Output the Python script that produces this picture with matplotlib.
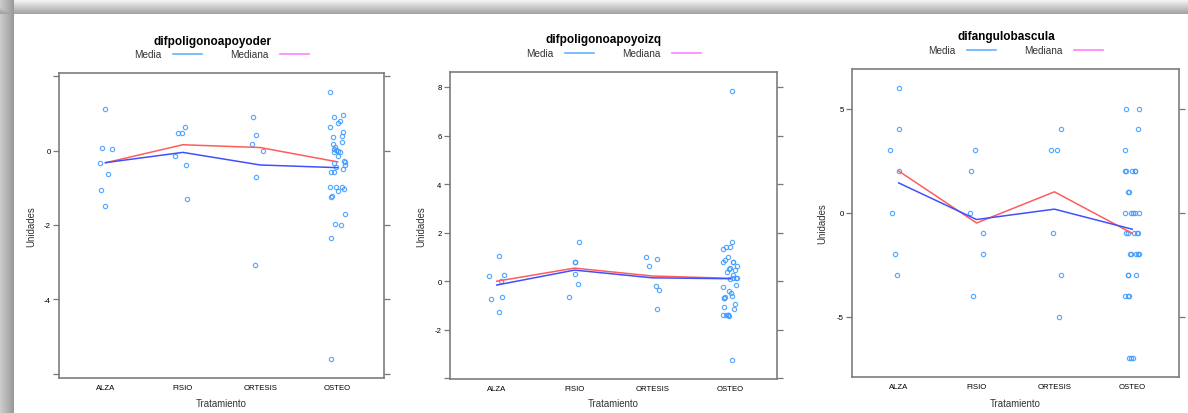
import numpy as np
import matplotlib.pyplot as plt

plt.rcParams['font.family'] = ['Liberation Sans', 'DejaVu Sans']

W, H = 1188, 414

tratamientos = ['ALZA', 'FISIO', 'ORTESIS', 'OSTEO']

# difpoligonoapoyoder
der_alza = [1.12, 0.08, 0.04, -0.33, -0.64, -1.05, -1.50]
der_fisio = [0.46, 0.46, 0.62, -0.15, -0.39, -1.30]
der_ortesis = [0.89, 0.41, 0.17, -0.01, -0.71, -3.08]
der_osteo = [1.58, 0.89, 0.95, 0.74, 0.79, 0.62, 0.51, 0.35, 0.38, 0.23,
             0.17, 0.09, 0.04, 0.01, -0.02, -0.05, -0.04, -0.15, -0.29, -0.32,
             -0.33, -0.39, -0.44, -0.49, -0.57, -0.57, -0.99, -0.97, -0.98, -1.08,
             -1.04, -1.22, -1.26, -1.71, -1.98, -2.01, -2.34, -5.61]

# difpoligonoapoyoizq
izq_alza = [0.22, 1.03, 0.27, 0.00, -0.74, -0.63, -1.25]
izq_fisio = [1.63, 0.81, 0.79, 0.29, -0.11, -0.66]
izq_ortesis = [1.01, 0.92, 0.64, -0.21, -0.38, -1.14]
izq_osteo = [7.84, 1.60, 1.33, 1.41, 1.41, 1.01, 0.89, 0.78, 0.81, 0.78,
             0.64, 0.48, 0.56, 0.51, 0.40, 0.26, 0.12, 0.12, 0.12, 0.11,
             -0.15, -0.23, -0.42, -0.49, -0.59, -0.67, -0.70, -0.70, -0.95, -1.05,
             -1.14, -1.38, -1.38, -1.41, -1.44, -1.40, -3.25]

# difangulobascula
ang_alza = [6, 4, 3, 2, 0, -2, -3]
ang_fisio = [3, 2, 0, -1, -2, -4]
ang_ortesis = [3, 3, 4, -1, -3, -5]
ang_osteo = [5, 5, 4, 3, 2, 2, 2, 2, 2, 1, 1, 0, 0, 0, 0, 0,
             -1, -1, -1, -1, -1, -2, -2, -2, -2, -2, -3, -3, -3, -4, -4, -4,
             -7, -7, -7]

# horizontal jitter of each point (fraction of a category)
der_jit = [
    [-0.01, -0.05, 0.08, -0.07, 0.03, -0.06, -0.01],
    [-0.06, -0.01, 0.03, -0.10, 0.04, 0.05],
    [-0.09, -0.06, -0.10, 0.03, -0.06, -0.07],
    [-0.10, -0.05, 0.07, 0.00, 0.03, -0.10, 0.07, -0.06, 0.06, 0.06,
     -0.06, -0.03, -0.05, -0.02, 0.00, 0.03, -0.04, 0.01, 0.08, 0.10,
     -0.05, 0.10, -0.02, 0.07, -0.09, -0.05, -0.10, -0.02, 0.06, 0.00,
     0.08, -0.07, -0.09, 0.10, -0.03, 0.04, -0.09, -0.09],
]
izq_jit = [
    [-0.10, 0.03, 0.09, 0.05, -0.07, 0.07, 0.03],
    [0.06, 0.00, 0.01, 0.00, 0.04, -0.07],
    [-0.08, 0.06, -0.04, 0.05, 0.09, 0.06],
    [0.02, 0.02, -0.09, -0.06, -0.01, -0.03, -0.07, -0.09, 0.03, 0.04,
     0.09, 0.06, 0.00, -0.02, -0.04, 0.03, 0.07, 0.09, 0.03, -0.01,
     0.07, -0.09, -0.02, 0.01, 0.02, -0.07, -0.08, -0.08, 0.06, -0.08,
     0.05, -0.09, -0.06, -0.03, -0.02, -0.03, 0.02],
]
ang_jit = [
    [0.01, 0.01, -0.11, 0.01, -0.08, -0.05, -0.02],
    [-0.02, -0.07, -0.09, 0.08, 0.08, -0.05],
    [-0.04, 0.03, 0.09, -0.02, 0.08, 0.06],
    [-0.08, 0.08, 0.07, -0.10, -0.10, -0.08, 0.00, 0.03, 0.04, -0.06,
     -0.04, -0.09, -0.02, 0.01, 0.04, 0.09, -0.08, -0.06, 0.02, 0.06,
     0.07, -0.03, -0.02, 0.05, 0.07, 0.09, -0.06, -0.05, 0.05, -0.09,
     -0.06, -0.04, -0.04, -0.02, 0.01],
]

fig = plt.figure(figsize=(W / 100, H / 100), dpi=100)

# grey window shadow along the top and left edges
bg = np.ones((H, W))
for r in range(15):
    bg[r, :] = 0.97 - 0.33 * r / 14
for c in range(14):
    bg[:, c] = np.minimum(bg[:, c], 0.80 - 0.20 * c / 13)
bgax = fig.add_axes([0, 0, 1, 1], zorder=-1)
bgax.imshow(bg, cmap='gray', vmin=0, vmax=1, aspect='auto', interpolation='bilinear')
bgax.axis('off')


def px(x, y):
    return x / W, 1 - y / H


def panel(box, grupos, jit, ticks, labels, titulo, tx, ty, ly, ylab_x):
    l, t, r, b = box
    ax = fig.add_axes([l / W, 1 - b / H, (r - l) / W, (b - t) / H])
    todos = np.concatenate([np.array(g, float) for g in grupos])
    pad = 0.07 * (todos.max() - todos.min())
    for i, (g, j) in enumerate(zip(grupos, jit)):
        ax.plot(i + 1 + np.array(j), g, 'o', ms=3.1, mfc='none',
                mec='#3d9bff', mew=0.85, alpha=0.85)
    xs = np.arange(1, len(grupos) + 1)
    medias = [np.mean(g) for g in grupos]
    medianas = [np.median(g) for g in grupos]
    ax.plot(xs, medianas, color='#ff5c5c', lw=1.1)
    ax.plot(xs, medias, color='#4050ff', lw=1.1)
    ax.set_xlim(0.4, 4.6)
    ax.set_ylim(todos.min() - pad, todos.max() + pad)
    ax.set_xticks(xs, tratamientos)
    ax.set_yticks(ticks, labels)
    ax.tick_params(axis='x', length=0, pad=4, labelsize=5.6)
    ax.tick_params(axis='y', length=4, width=0.9, color='#777777', pad=2,
                   labelsize=5.6, right=True, labelright=False)
    for s in ax.spines.values():
        s.set_color('#7d7d7d')
        s.set_linewidth(1.2)

    fig.text(*px(tx, ty), titulo, ha='center', va='center',
             fontsize=8.5, fontweight='bold')
    fig.text(*px(tx - 78, ly), 'Media', ha='left', va='center', fontsize=7.2,
             color='#333333')
    fig.add_artist(plt.Line2D([(tx - 39) / W, (tx - 10) / W], [1 - ly / H] * 2,
                              color='#66b0ff', lw=1.2))
    fig.text(*px(tx + 18, ly), 'Mediana', ha='left', va='center', fontsize=7.2,
             color='#333333')
    fig.add_artist(plt.Line2D([(tx + 68) / W, (tx + 97) / W], [1 - ly / H] * 2,
                              color='#ff80ff', lw=1.2))
    fig.text(*px((l + r) / 2, 404), 'Tratamiento', ha='center', va='center',
             fontsize=6.9, color='#333333')
    fig.text(*px(ylab_x, (t + b) / 2), 'Unidades', ha='center', va='center',
             rotation=90, fontsize=6.9, color='#333333')
    return ax


panel((59, 74, 384, 379), [der_alza, der_fisio, der_ortesis, der_osteo], der_jit,
      [-6, -4, -2, 0, 2], ['', '-4', '-2', '0', ''],
      'difpoligonoapoyoder', 212, 42, 55, 31)
panel((450, 73, 777, 380), [izq_alza, izq_fisio, izq_ortesis, izq_osteo], izq_jit,
      [-4, -2, 0, 2, 4, 6, 8], ['', '-2', '0', '2', '4', '6', '8'],
      'difpoligonoapoyoizq', 604, 40, 54, 421)
panel((852, 70, 1179, 378), [ang_alza, ang_fisio, ang_ortesis, ang_osteo], ang_jit,
      [-5, 0, 5], ['-5', '0', '5'],
      'difangulobascula', 1006, 37, 51, 822)

fig.savefig('out.png', dpi=100)
